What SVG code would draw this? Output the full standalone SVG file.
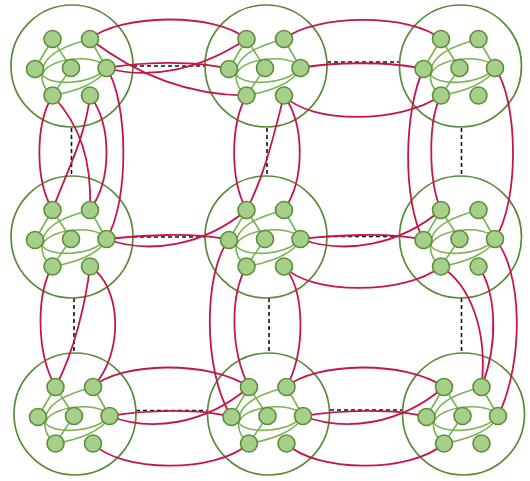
<svg xmlns="http://www.w3.org/2000/svg" xmlns:xlink="http://www.w3.org/1999/xlink" width="530" height="481" viewBox="0 0 530 481">
<style>
.big{fill:none;stroke:#5a8a38;stroke-width:1.7}
.in{fill:none;stroke:#78b451;stroke-width:1.6}
.v{fill:#a6cf8a;stroke:#5c8e3a;stroke-width:1.6}
.r{fill:none;stroke:#c5164b;stroke-width:1.8}
.d{fill:none;stroke:#111;stroke-width:1.6;stroke-dasharray:4 3}
</style>
<defs>
<g id="shell">
<circle class="big" cx="0" cy="0" r="61"/>
<path class="in" d="M-19.5,-27 L-37,3"/>
<path class="in" d="M-19.5,-27 L-1,2"/>
<path class="in" d="M18,-27 L34.5,2"/>
<path class="in" d="M-1,2 L-19.5,29.5"/>
<path class="in" d="M18,-27 C0,-22 -28,-14 -30,6 C-31,16 -27,24 -19.5,29.5"/>
<path class="in" d="M-30,10 C-28,-8 25,-14 34.5,2"/>
<path class="in" d="M-30,8 C-25,20 20,20 34.5,2"/>
<path class="in" d="M34.5,2 C28,18 0,26 -19.5,29.5"/>
</g>
<g id="verts">
<circle class="v" cx="-19.5" cy="-27" r="8.5"/>
<circle class="v" cx="18" cy="-27" r="8.5"/>
<circle class="v" cx="-37" cy="3" r="8.5"/>
<circle class="v" cx="-1" cy="2" r="8.5"/>
<circle class="v" cx="34.5" cy="2" r="8.5"/>
<circle class="v" cx="-19.5" cy="29.5" r="8.5"/>
<circle class="v" cx="18" cy="29.5" r="8.5"/>
</g>
</defs>
<g id="dashes">
<path class="d" d="M133,66 H205"/>
<path class="d" d="M327,62 H399"/>
<path class="d" d="M133,237 H205"/>
<path class="d" d="M327,236.5 H399"/>
<path class="d" d="M136,410.5 H207"/>
<path class="d" d="M330,410 H402"/>
<path class="d" d="M71.5,128 V175"/>
<path class="d" d="M267,128 V175"/>
<path class="d" d="M461.5,128 V175"/>
<path class="d" d="M74,298 V352"/>
<path class="d" d="M269,298 V352"/>
<path class="d" d="M461.5,298 V352"/>
</g>
<g id="TL"><use xlink:href="#shell" transform="translate(72,66)"/></g>
<g id="TM"><use xlink:href="#shell" transform="translate(266,66)"/></g>
<g id="TR"><use xlink:href="#shell" transform="translate(460.5,66)"/></g>
<g id="ML"><use xlink:href="#shell" transform="translate(72,237)"/></g>
<g id="MM"><use xlink:href="#shell" transform="translate(266,237)"/></g>
<g id="MR"><use xlink:href="#shell" transform="translate(460.5,237)"/></g>
<g id="BL"><use xlink:href="#shell" transform="translate(75,414)"/></g>
<g id="BM"><use xlink:href="#shell" transform="translate(268.5,414)"/></g>
<g id="BR"><use xlink:href="#shell" transform="translate(463.5,414)"/></g>
<g id="connectors">
<path class="r" d="M90,39 C120,14 215,12 246.5,39"/>
<path class="r" d="M106.5,68 C140,62 195,60 229,69"/>
<path class="r" d="M106.5,68 C150,80 200,70 246.5,39"/>
<path class="r" d="M90,39 C130,70 180,95 246.5,95.5"/>
<path class="r" d="M284,39 C315,14 410,13 441,39"/>
<path class="r" d="M300.5,68 C330,62 390,61 423.5,69"/>
<path class="r" d="M284,95.5 C310,124 400,124 441,95.5"/>
<path class="r" d="M106.5,239 C140,235 195,232 229,240"/>
<path class="r" d="M106.5,239 C150,255 205,245 246.5,210"/>
<path class="r" d="M300.5,239 C335,235 390,232 423.5,240"/>
<path class="r" d="M300.5,239 C345,255 400,245 441,210"/>
<path class="r" d="M284,266.5 C310,295 405,295 441,266.5"/>
<path class="r" d="M93,387 C120,362 210,360 249,387"/>
<path class="r" d="M109.5,416 C145,410 200,408 231.5,417"/>
<path class="r" d="M109.5,416 C150,432 205,425 249,387"/>
<path class="r" d="M93,443.5 C120,472 215,474 249,443.5"/>
<path class="r" d="M286.5,387 C315,362 405,360 444,387"/>
<path class="r" d="M303,416 C340,410 395,408 426.5,417"/>
<path class="r" d="M303,416 C345,432 400,425 444,387"/>
<path class="r" d="M286.5,443.5 C315,472 410,474 444,443.5"/>
<path class="r" d="M52.5,95.5 C35,125 35,180 52.5,210"/>
<path class="r" d="M52.5,95.5 C80,125 92,160 90,210"/>
<path class="r" d="M90,95.5 C85,140 65,175 52.5,210"/>
<path class="r" d="M90,95.5 C112,125 112,180 90,210"/>
<path class="r" d="M106.5,68 C128,100 130,200 106.5,239"/>
<path class="r" d="M246.5,95.5 C230,125 230,180 246.5,210"/>
<path class="r" d="M284,95.5 C275,130 265,175 246.5,210"/>
<path class="r" d="M284,95.5 C305,125 305,180 284,210"/>
<path class="r" d="M423.5,69 C404,110 402,200 423.5,240"/>
<path class="r" d="M441,95.5 C428,120 428,180 441,210"/>
<path class="r" d="M495,68 C518,100 520,200 495,239"/>
<path class="r" d="M52.5,266.5 C37,290 35,350 55.5,387"/>
<path class="r" d="M90,266.5 C86,300 75,350 55.5,387"/>
<path class="r" d="M90,266.5 C120,285 126,350 93,387"/>
<path class="r" d="M229,240 C204,270 202,370 231.5,417"/>
<path class="r" d="M246.5,266.5 C230,295 230,350 249,387"/>
<path class="r" d="M284,266.5 C305,290 306,350 286.5,387"/>
<path class="r" d="M441,266.5 C470,285 488,330 481.5,387"/>
<path class="r" d="M478.5,266.5 C495,290 500,340 481.5,387"/>
<path class="r" d="M495,239 C522,270 525,360 498,416"/>
</g>
<g id="TL-nodes"><use xlink:href="#verts" transform="translate(72,66)"/></g>
<g id="TM-nodes"><use xlink:href="#verts" transform="translate(266,66)"/></g>
<g id="TR-nodes"><use xlink:href="#verts" transform="translate(460.5,66)"/></g>
<g id="ML-nodes"><use xlink:href="#verts" transform="translate(72,237)"/></g>
<g id="MM-nodes"><use xlink:href="#verts" transform="translate(266,237)"/></g>
<g id="MR-nodes"><use xlink:href="#verts" transform="translate(460.5,237)"/></g>
<g id="BL-nodes"><use xlink:href="#verts" transform="translate(75,414)"/></g>
<g id="BM-nodes"><use xlink:href="#verts" transform="translate(268.5,414)"/></g>
<g id="BR-nodes"><use xlink:href="#verts" transform="translate(463.5,414)"/></g>
</svg>
